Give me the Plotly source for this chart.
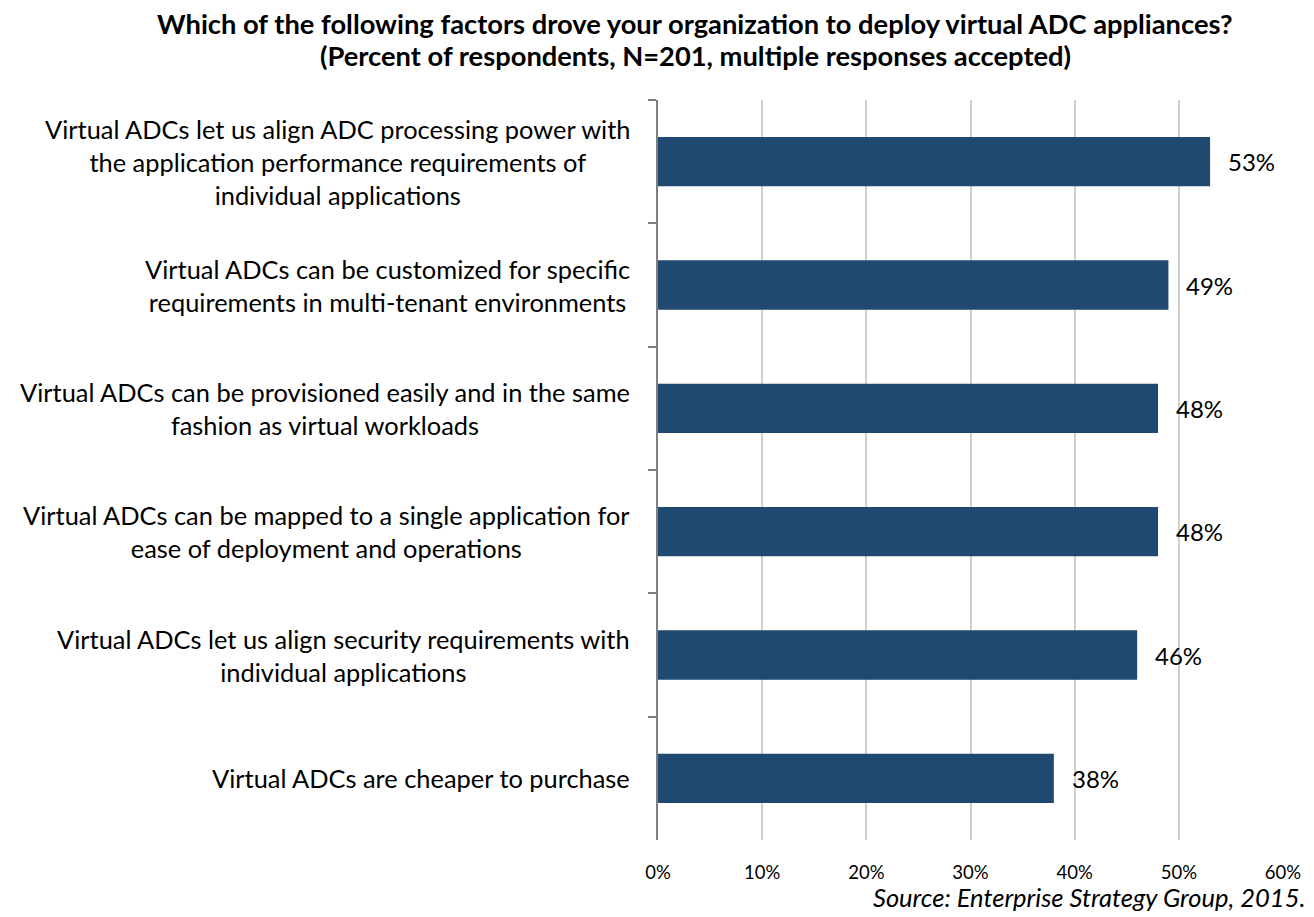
import plotly.graph_objects as go

categories = [
    "Virtual ADCs let us align ADC processing power with<br>the application performance requirements of<br>individual applications",
    "Virtual ADCs can be customized for specific<br>requirements in multi-tenant environments",
    "Virtual ADCs can be provisioned easily and in the same<br>fashion as virtual workloads",
    "Virtual ADCs can be mapped to a single application for<br>ease of deployment and operations",
    "Virtual ADCs let us align security requirements with<br>individual applications",
    "Virtual ADCs are cheaper to purchase",
]
values = [53, 49, 48, 48, 46, 38]
x_ticks = [0, 10, 20, 30, 40, 50, 60]
x_tick_labels = ["0%", "10%", "20%", "30%", "40%", "50%", "60%"]
title_lines = [
    "Which of the following factors drove your organization to deploy virtual ADC appliances?",
    "(Percent of respondents, N=201, multiple responses accepted)",
]
source_text = "Source: Enterprise Strategy Group, 2015."

FONT = "Lato, 'Open Sans', sans-serif"
BAR = "#1F4971"

# plot area in pixels: x 658..1283, y 100..840
def px_x(px):
    return (px - 658) / 625

def px_y(py):
    return (840 - py) / 740

fig = go.Figure(go.Bar(
    x=values, y=categories, orientation="h",
    marker=dict(color=BAR, line=dict(width=0)),
    width=0.4, hoverinfo="skip",
))

annotations = []
for c, v in zip(categories, values):
    annotations.append(dict(x=v, y=c, xref="x", yref="y", text=f"{v}%",
                            showarrow=False, xanchor="left", xshift=16,
                            font=dict(family=FONT, size=24, color="#000")))
    annotations.append(dict(x=-0.042, y=c, xref="paper", yref="y", text=c,
                            showarrow=False, xanchor="right", align="center",
                            font=dict(family=FONT, size=25.4, color="#000")))
annotations.append(dict(x=px_x(1307), y=px_y(897), xref="paper", yref="paper",
                        text=f"<i>{source_text}</i>",
                        showarrow=False, xanchor="right", yanchor="middle",
                        font=dict(family=FONT, size=25.5, color="#000")))
for line, cy in zip(title_lines, [24, 55]):
    annotations.append(dict(x=px_x(695), y=px_y(cy), xref="paper", yref="paper",
                            text=f"<b>{line}</b>",
                            showarrow=False, xanchor="center", yanchor="middle",
                            font=dict(family=FONT, size=27.3, color="#000")))

fig.update_layout(
    width=1314, height=917,
    margin=dict(l=658, r=31, t=100, b=77),
    paper_bgcolor="white", plot_bgcolor="white",
    showlegend=False,
    annotations=annotations,
    bargap=0.6,
)
fig.update_xaxes(range=[0, 60], tickvals=x_ticks, ticktext=x_tick_labels,
                 showgrid=True, gridcolor="#CFCFCF", gridwidth=2,
                 zeroline=False, showline=False, ticks="",
                 tickfont=dict(family=FONT, size=18.5, color="#000"),
                 ticklabelstandoff=19, fixedrange=True)
fig.update_yaxes(autorange="reversed", showticklabels=False,
                 tickson="boundaries", ticks="outside", ticklen=8,
                 tickcolor="#7F7F7F", tickwidth=1.5,
                 showline=True, linecolor="#7F7F7F", linewidth=1.5,
                 showgrid=False, zeroline=False, fixedrange=True)

fig.write_html("out.html")
